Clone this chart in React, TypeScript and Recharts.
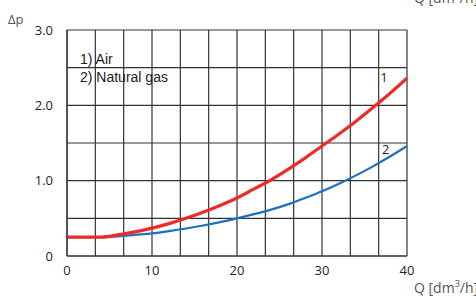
import { CartesianGrid, Line, LineChart, ReferenceDot, XAxis, YAxis } from "recharts"

const flow = [0, 2, 4, 6, 8, 10, 12, 14, 16, 18, 20, 22, 24, 26, 28, 30, 32, 34, 36, 38, 40]
const air = [0.25, 0.25, 0.25, 0.28, 0.32, 0.37, 0.43, 0.5, 0.58, 0.67, 0.77, 0.89, 1.01, 1.15, 1.3, 1.46, 1.62, 1.79, 1.97, 2.16, 2.36]
const gas = [0.25, 0.25, 0.25, 0.26, 0.28, 0.3, 0.33, 0.365, 0.405, 0.45, 0.5, 0.555, 0.615, 0.685, 0.77, 0.86, 0.96, 1.07, 1.19, 1.32, 1.46]

const xTicks = [0, 3.333, 6.667, 10, 13.333, 16.667, 20, 23.333, 26.667, 30, 33.333, 36.667, 40]
const xLabels = [0, 10, 20, 30, 40]
const yTicks = [0, 0.5, 1, 1.5, 2, 2.5, 3]
const yLabels: Record<number, string> = { 0: "0", 1: "1.0", 2: "2.0", 3: "3.0" }

const data = flow.map((q, i) => ({ q, air: air[i], gas: gas[i] }))

const tickStyle = { fontFamily: "Open Sans", fontSize: 13, fill: "#222" }
const unitStyle = { position: "absolute" as const, left: 414, fontFamily: "Open Sans", fontSize: 14, color: "#555", whiteSpace: "nowrap" as const }

export default function App() {
  return (
    <div style={{ position: "absolute", left: 0, top: 0, width: 476, height: 298, background: "#fff", overflow: "hidden" }}>
      <LineChart width={476} height={298} data={data} margin={{ top: 30, right: 69, bottom: 22, left: 27 }}>
        <CartesianGrid stroke="#333" strokeWidth={1.2} />
        <XAxis
          dataKey="q"
          type="number"
          domain={[0, 40]}
          ticks={xTicks}
          tickFormatter={(v) => (xLabels.some((l) => Math.abs(l - v) < 0.01) ? String(Math.round(v)) : "")}
          tickLine={false}
          axisLine={{ stroke: "#333", strokeWidth: 1.2 }}
          tick={tickStyle}
          tickMargin={4}
          height={20}
          interval={0}
        />
        <YAxis
          type="number"
          domain={[0, 3]}
          ticks={yTicks}
          tickFormatter={(v) => yLabels[v] ?? ""}
          tickLine={false}
          axisLine={{ stroke: "#333", strokeWidth: 1.2 }}
          tick={tickStyle}
          tickMargin={8}
          width={40}
          interval={0}
        />
        <Line dataKey="gas" stroke="#1d6fbf" strokeWidth={2.2} dot={false} type="monotone" isAnimationActive={false} />
        <Line dataKey="air" stroke="#ee2b2b" strokeWidth={3.2} dot={false} type="monotone" isAnimationActive={false} />
        <ReferenceDot x={37.3} y={2.37} r={0} label={{ value: "1", fill: "#222", fontSize: 13, fontFamily: "Open Sans" }} />
        <ReferenceDot x={37.5} y={1.42} r={0} label={{ value: "2", fill: "#222", fontSize: 13, fontFamily: "Open Sans" }} />
      </LineChart>
      <div style={{ position: "absolute", left: 80, top: 50, fontFamily: "Liberation Sans", fontSize: 14, color: "#222", lineHeight: "18px" }}>
        1) Air
        <br />
        2) Natural gas
      </div>
      <div style={{ position: "absolute", left: 8, top: 10, fontFamily: "Open Sans", fontSize: 13, color: "#555" }}>Δp</div>
      <div style={{ ...unitStyle, top: 277 }}>
        Q [dm<sup style={{ fontSize: 9 }}>3</sup>/h]
      </div>
      <div style={{ ...unitStyle, top: -13 }}>
        Q [dm<sup style={{ fontSize: 9 }}>3</sup>/h]
      </div>
    </div>
  )
}
